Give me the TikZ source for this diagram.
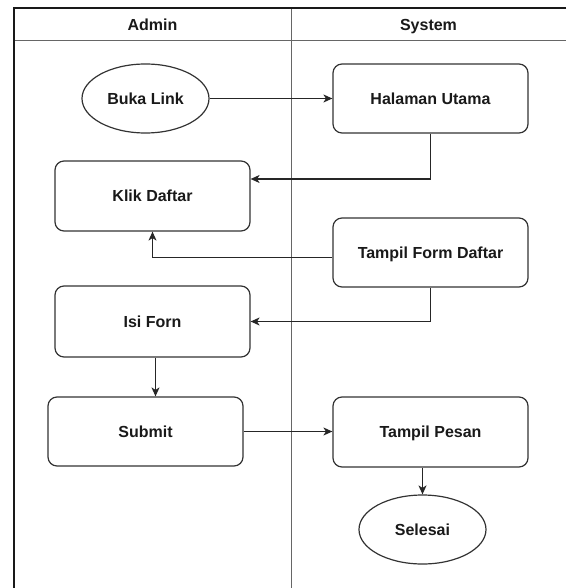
\documentclass[tikz,border=0pt]{standalone}
\usepackage{fontspec}
\setmainfont{Liberation Sans}
\usetikzlibrary{shapes.geometric,arrows.meta}
\begin{document}
\begin{tikzpicture}[x=1pt,y=-1pt,
  txt/.style={font=\fontsize{16}{19}\selectfont\bfseries, text=black!90, text height=11.5pt, text depth=0pt},
  box/.style={txt, draw=black!80, line width=1.2pt, rounded corners=9pt, minimum width=195pt, minimum height=70pt, inner sep=0pt},
  oval/.style={txt, draw=black!80, line width=1.2pt, ellipse, minimum width=127pt, minimum height=69pt, inner sep=0pt},
  conn/.style={draw=black!85, line width=1.2pt, -{Stealth[length=9pt,width=8pt,inset=2.5pt]}},
  lane/.style={draw=black!60, line width=1pt}]
\useasboundingbox (0,0) rectangle (566,588);
% swimlanes
\draw[lane] (14,41) -- (566,41);
\draw[lane] (291,8) -- (291,588);
\draw[draw=black!90, line width=1.5pt] (566,8) -- (14,8) -- (14,588);
\node[txt] (hadmin) at (152.5,24.5) {Admin};
\node[txt] (hsys) at (428.5,24.5) {System};
% nodes
\node[oval] (buka) at (145.5,98.5) {Buka Link};
\node[box, minimum height=69pt] (halaman) at (430.5,98.5) {Halaman Utama};
\node[box] (klik) at (152.5,196) {Klik Daftar};
\node[box, minimum height=69pt] (tform) at (430.5,252.5) {Tampil Form Daftar};
\node[box, minimum height=71pt] (isi) at (152.5,321.5) {Isi Forn};
\node[box, minimum height=69pt] (submit) at (145.5,431.5) {Submit};
\node[box] (pesan) at (430.5,432) {Tampil Pesan};
\node[oval] (selesai) at (422.5,529.5) {Selesai};
% connectors
\draw[conn] (buka.east) -- (halaman.west);
\draw[conn] (halaman.south) |- ([yshift=17pt]klik.east);
\draw[conn] ([yshift=-5pt]tform.west) -| (klik.south);
\draw[conn] (tform.south) |- (isi.east);
\draw[conn] ([xshift=3pt]isi.south) -- ([xshift=3pt]isi.south |- submit.north);
\draw[conn] (submit.east) -- (submit.east -| pesan.west);
\draw[conn] (selesai.north |- pesan.south) -- (selesai.north);
\end{tikzpicture}
\end{document}
